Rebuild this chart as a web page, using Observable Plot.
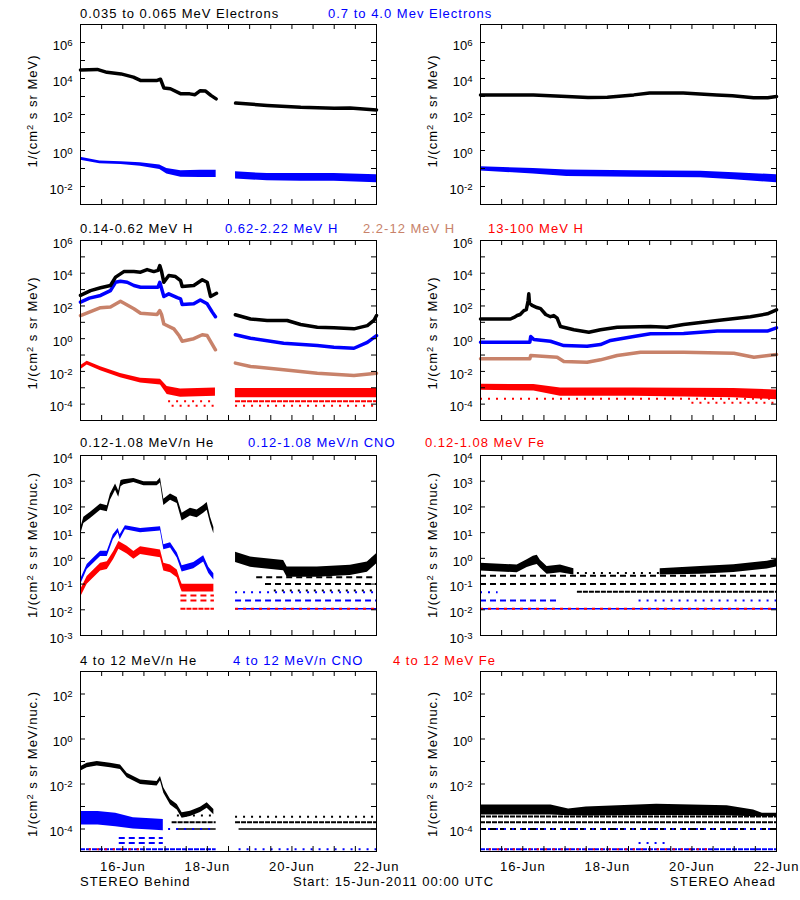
<!DOCTYPE html>
<html><head><meta charset="utf-8">
<script src="https://cdn.jsdelivr.net/npm/d3@7"></script>
<script src="https://cdn.jsdelivr.net/npm/@observablehq/plot@0.6"></script>
<style>
html,body{margin:0;padding:0;background:#fff;}
#chart{position:relative;width:800px;height:900px;overflow:hidden;font-family:"Liberation Sans",Arial,sans-serif;font-size:13px;color:#000;}
.t{position:absolute;white-space:nowrap;line-height:13px;letter-spacing:1px;}
.yl{position:absolute;white-space:nowrap;line-height:14px;letter-spacing:1px;transform:translate(-50%,-50%) rotate(-90deg);}
.yl sup{font-size:0.72em;vertical-align:0.45em;line-height:0;}
.p{position:absolute;}
g[aria-label="x-axis tick label"] text{letter-spacing:1px;}
</style></head>
<body><div id="chart"></div>
<script>
// ---------------- time axis (hours since 15-Jun-2011 00:00 UTC) ----------------
const X_DOMAIN = [0, 168];
const X_MINOR_HOURS = [12,24,36,48,60,72,84,96,108,120,132,144,156];
const X_LABEL_HOURS = [24,72,120,168];
const X_LABELS = ["16-Jun","18-Jun","20-Jun","22-Jun"];

// ---------------- y axes (decades) ----------------
const ELEC_TICK_EXPS = [-3,-2,-1,0,1,2,3,4,5,6,7];
const ELEC_LABEL_EXPS = [-2,0,2,4,6];
const H_TICK_EXPS = [-5,-4,-3,-2,-1,0,1,2,3,4,5,6];
const H_LABEL_EXPS = [-4,-2,0,2,4,6];
const LO_TICK_EXPS = [-3,-2,-1,0,1,2,3,4];
const LO_LABEL_EXPS = [-3,-2,-1,0,1,2,3,4];
const HI_TICK_EXPS = [-5,-4,-3,-2,-1,0,1,2,3];
const HI_LABEL_EXPS = [-4,-2,0,2];

// ---------------- texts ----------------
const ROW1_TITLES = ["0.035 to 0.065 MeV Electrons","0.7 to 4.0 Mev Electrons"];
const ROW2_TITLES = ["0.14-0.62 MeV H","0.62-2.22 MeV H","2.2-12 MeV H","13-100 MeV H"];
const ROW3_TITLES = ["0.12-1.08 MeV/n He","0.12-1.08 MeV/n CNO","0.12-1.08 MeV Fe"];
const ROW4_TITLES = ["4 to 12 MeV/n He","4 to 12 MeV/n CNO","4 to 12 MeV Fe"];
const FOOTER = ["STEREO Behind","Start: 15-Jun-2011 00:00 UTC","STEREO Ahead"];

// ---------------- row 1: electrons  [hour, value] / [hour, value, halfwidth(decades)] ----------------
const behindElecLow = [[0,3.0e4],[9.5,3.2e4],[15,2.2e4],[23,1.8e4],[30,1.2e4],[34,7.8e3],[43.5,7.8e3],[45.4,9.1e3],[47.3,3.0e3],[51,2.7e3],[57,1.4e3],[62,1.4e3],[65,1.26e3],[68,2.1e3],[71,2.0e3],[74,1.15e3],[77,7.4e2],[82,null],[88,4.3e2],[106,3.2e2],[125,2.5e2],[144,2.2e2],[153,2.3e2],[168,1.8e2]];
const behindElecHigh = [[0,0.35,0.08],[11,0.22,0.08],[23,0.2,0.08],[34,0.166,0.1],[45,0.117,0.12],[49,0.071,0.15],[57,0.05,0.18],[68,0.05,0.2],[77,0.05,0.2],[82,null,0],[88,0.041,0.2],[106,0.033,0.2],[125,0.032,0.22],[144,0.032,0.22],[168,0.027,0.22]];
const aheadElecLow = [[0,1230],[30,1230],[49,1000],[61,870],[72,910],[87,1230],[96,1580],[115,1580],[134,1230],[143,1100],[155,850],[163,850],[168,1000]];
const aheadElecHigh = [[0,0.095,0.12],[30,0.071,0.15],[49,0.055,0.18],[87,0.05,0.18],[125,0.047,0.18],[144,0.037,0.2],[168,0.027,0.22]];

// ---------------- row 2: protons ----------------
const behindH1 = [[0,440],[5.7,870],[11.4,1290],[17,1780],[19.9,5750],[24.6,12600],[30.3,12600],[34.1,11500],[37.8,16600],[41.6,12600],[44,15000],[45,29500],[46,13000],[47.3,2800],[50.1,7200],[53.9,6300],[56.8,3550],[57.7,1550],[64.3,1780],[69.1,4000],[71.9,2800],[73.8,380],[77.2,600],[82,null],[87.9,29],[96.5,16],[105.9,13],[117.3,13],[124.9,7.4],[134.4,5.0],[143.8,4.6],[155.2,4.0],[162.8,6.3],[166.5,13],[168,26]];
const behindH2 = [[0,170],[5,300],[11.4,440],[17,870],[19.9,2800],[22.7,3240],[26.5,2800],[30.3,1780],[34.1,1400],[44,1400],[45,2800],[47.3,380],[50.1,550],[54.9,320],[56.8,270],[57.7,123],[64.3,135],[68,234],[71.9,135],[74.8,42],[76.6,22],[82,null],[87.9,1.74],[96.5,1.07],[115.3,0.52],[134.4,0.38],[143.8,0.30],[155.2,0.26],[162.8,0.6],[168,1.55]];
const behindH3 = [[0,26],[11.4,78],[17,87],[22.7,195],[30.3,68],[34.1,36],[43.5,30],[45,52],[46,30],[47.3,7.9],[53,4],[56,1.5],[57.7,0.7],[64.3,1.0],[69.1,1.74],[71.9,1.55],[76.6,0.21],[82,null],[87.9,0.032],[96.5,0.02],[115.3,0.0126],[134.4,0.0078],[155.2,0.0056],[168,0.0078]];
const behindH4 = [[0,0.0166,0.12],[3.8,0.032,0.12],[11.4,0.0145,0.12],[22.7,0.0056,0.13],[34.1,0.00275,0.14],[45.4,0.0022,0.18],[49.2,6.8e-4,0.25],[56.8,4.7e-4,0.25],[76.6,5.4e-4,0.25],[82,null,0],[87.9,4.7e-4,0.28],[168,4.7e-4,0.28]];
const behindH4Floors = [[1.5e-4,50,77,"sparse"],[8e-5,52,77,"sparse"],[1.5e-4,88,168,"dense"],[8e-5,88,168,"sparse"]];
const aheadH1 = [[0,16],[17,16],[19,20],[20.8,26],[22.5,30],[24.6,52],[26,60],[27,200],[27.4,550],[27.8,150],[29.3,107],[32,80],[34.1,68],[37,30],[39.7,22],[41.6,26],[43.5,18],[45.4,5.5],[53,3.5],[61.5,2.5],[68.1,3.5],[77.6,5.0],[96.5,5.5],[105.9,5.0],[115.3,7.4],[134.4,13],[153.2,22],[162.8,33],[168,58]];
const aheadH2 = [[0,0.6],[28,0.6],[28.5,1.35],[30.3,0.9],[39.7,0.7],[47.3,0.38],[60.5,0.35],[68.1,0.44],[73.8,0.78],[87,1.35],[96.5,2.0],[115.3,2.1],[134.4,2.9],[153.2,2.9],[162.8,2.9],[168,4.6]];
const aheadH3 = [[0,0.059],[28,0.059],[28.5,0.093],[43.5,0.074],[47.3,0.04],[60.5,0.036],[68.1,0.051],[77.6,0.093],[90.8,0.148],[115.3,0.148],[143.8,0.129],[155.2,0.074],[168,0.107]];
const aheadH4 = [[0,1.07e-3,0.18],[30.3,1e-3,0.2],[45.4,5.4e-4,0.25],[87,5.4e-4,0.25],[143.8,4.7e-4,0.28],[168,3.7e-4,0.3]];
const aheadH4Floors = [[2.1e-4,0,168,"sparse"],[1.2e-4,120,168,"sparse"]];

// ---------------- row 3: 0.12-1.08 MeV/n ions ----------------
const behindHeLo = [[0,10.5,0.12],[1.9,30,0.12],[5.7,47,0.12],[11.4,98,0.12],[15.2,85,0.12],[17,240,0.12],[19.9,590,0.12],[21.7,316,0.12],[23,800,0.12],[24.6,910,0.1],[30.3,1070,0.08],[36,800,0.08],[43.5,800,0.08],[45.4,1070,0.1],[47.3,151,0.12],[51.1,240,0.12],[54.9,178,0.12],[57.7,40,0.15],[62.4,63,0.15],[66.2,54,0.15],[69.9,80,0.15],[71.9,105,0.15],[73.8,30,0.12],[75.7,12,0.12],[82,null,0],[88,1.1,0.2],[96.5,0.71,0.2],[115.3,0.52,0.2],[117.3,0.29,0.2],[134.4,0.29,0.2],[153.2,0.34,0.2],[162.8,0.46,0.2],[168,0.95,0.2]];
const behindCNOLo = [[0,0.117,0.1],[3.8,0.46,0.1],[7.6,0.83,0.1],[11.4,1.5,0.1],[15.2,1.5,0.1],[18.6,6.6,0.1],[21.4,12,0.08],[22.5,6.6,0.1],[25.5,15.5,0.08],[34.1,12,0.08],[45.4,14,0.08],[47.3,2.7,0.1],[51.1,3.2,0.1],[54.9,1.3,0.1],[57.7,0.39,0.12],[64.3,0.52,0.12],[69.9,0.95,0.12],[72.8,0.34,0.12],[75.7,0.19,0.12]];
const behindFeLo = [[0,0.042,0.15],[3.8,0.138,0.15],[11.4,0.46,0.15],[15.2,0.52,0.15],[18.9,1.3,0.15],[21.8,3.2,0.15],[26.5,2.1,0.15],[30.3,1.3,0.15],[34.1,2.0,0.15],[45.4,1.5,0.15],[47.3,0.46,0.15],[51.1,0.39,0.15],[54.9,0.25,0.15],[56.8,0.1,0.15],[57.7,0.07,0.15],[75.7,0.07,0.15]];
const behindLoFloors = [["He",0.186,100,168,"dashed"],["He",0.1,105,168,"dashed"],["He",0.056,110,168,"sparse"],["CNO",0.048,88,168,"sparse"],["CNO",0.023,88,168,"dashed"],["CNO",0.011,88,168,"solid"],["Fe",0.011,88,168,"mix"],["Fe",0.036,57,76,"dashed"],["Fe",0.023,57,76,"dashed"],["Fe",0.011,57,76,"dense"]];
const aheadHeLo = [[0,0.46,0.15],[20.8,0.39,0.15],[26.5,0.62,0.15],[30,0.8,0.18],[32.2,0.87,0.18],[34,0.6,0.15],[37.8,0.34,0.15],[45.4,0.39,0.15],[53,0.3,0.12],[56,null,0],[102,0.3,0.12],[124.9,0.34,0.15],[143.8,0.4,0.15],[162.8,0.55,0.15],[168,0.65,0.15]];
const aheadLoFloors = [["He",0.27,55,102,"sparse"],["He",0.21,0,168,"dashed"],["He",0.1,0,168,"dashed"],["He",0.05,55,168,"dense"],["CNO",0.048,0,10,"sparse"],["CNO",0.023,0,45,"dashed"],["CNO",0.023,90,168,"sparse"],["CNO",0.011,0,168,"solid"],["Fe",0.011,0,168,"mix"]];

// ---------------- row 4: 4-12 MeV/n ions ----------------
const behindHeHi = [[0,0.047,0.1],[3.8,0.066,0.1],[9.5,0.079,0.1],[17,0.066,0.1],[22.7,0.055,0.1],[26.5,0.024,0.1],[34.1,0.012,0.1],[43.5,0.0102,0.1],[45.4,0.017,0.1],[47.3,0.0051,0.12],[51.1,0.00155,0.12],[54.9,9.3e-4,0.12],[57.7,4e-4,0.12],[62.4,4.7e-4,0.12],[68.1,7.1e-4,0.12],[71.9,1.1e-3,0.12],[75.7,5.6e-4,0.12]];
const behindCNOHi = [[0,3e-4,0.3],[10,3e-4,0.3],[20,2.5e-4,0.3],[30,1.8e-4,0.25],[40,1.6e-4,0.25],[47,1.5e-4,0.25]];
const behindHiFloors = [["He",4e-4,55,77,"sparse"],["He",2e-4,52,77,"dense"],["He",1e-4,55,77,"solid"],["He",3.5e-4,88,168,"sparse"],["He",2e-4,88,168,"dense"],["He",1e-4,90,168,"solid"],["CNO",4e-5,22,47,"dashed"],["CNO",2.4e-5,22,47,"dashed"],["CNO",1.26e-5,0,77,"dense"],["CNO",1.26e-5,90,168,"sparse"],["CNO",1e-4,50,77,"sparse"],["Fe",1.26e-5,5,35,"sparse"]];
const aheadHeHi = [[0,7e-4,0.22],[40,7e-4,0.22],[50,5.5e-4,0.15],[60,6e-4,0.2],[100,7e-4,0.25],[140,6.5e-4,0.22],[155,5e-4,0.15],[160,4.2e-4,0.08],[168,4.2e-4,0.08]];
const aheadHiFloors = [["He",3.6e-4,0,168,"dense"],["He",2e-4,0,168,"dense"],["He",1e-4,0,168,"dashed"],["CNO",1e-4,0,168,"sparse"],["CNO",1.26e-5,0,168,"dense"],["CNO",2.4e-5,90,105,"sparse"],["Fe",1.26e-5,5,130,"sparse"]];

// ---------------- styling ----------------
const COLORS = {k:"#000000", b:"#0000ff", br:"#c8826a", r:"#ff0000"};
const SPECIES_COLOR = {He:"k", CNO:"b", Fe:"r", H4:"r"};
const DASH = {solid:null, dense:"5,1", dashed:"6,4", sparse:"2,6", mix:"3,5"};
const FONT = "'Liberation Sans', Arial, sans-serif";

const FRAME_W = 296, FRAME_H = 180, ML = 80, MR = 24, MT = 10;

function superscriptTicks(svg) {
  svg.querySelectorAll('g[aria-label="y-axis tick label"] text').forEach(t => {
    const m = /^10\^(-?\d+)$/.exec(t.textContent);
    if (!m) return;
    t.textContent = "10";
    const ts = document.createElementNS("http://www.w3.org/2000/svg", "tspan");
    ts.setAttribute("dy", "-0.42em");
    ts.setAttribute("font-size", "0.74em");
    ts.textContent = m[1];
    t.appendChild(ts);
  });
}

function panel(row, {lines = [], bands = [], floors = [], showX = false}) {
  const MB = showX ? 30 : 6;
  const marks = [];
  for (const [sp, v, h1, h2, dens] of floors) {
    marks.push(Plot.ruleY([{v, h1, h2}], {
      y: "v", x1: "h1", x2: "h2",
      stroke: COLORS[SPECIES_COLOR[sp]], strokeWidth: dens === "solid" ? 1.5 : 2,
      strokeDasharray: DASH[dens]
    }));
  }
  for (const [data, c] of bands) {
    marks.push(Plot.areaY(data, {
      x: d => d[0],
      y1: d => d[1] == null ? NaN : d[1] / Math.pow(10, d[2]),
      y2: d => d[1] == null ? NaN : d[1] * Math.pow(10, d[2]),
      fill: COLORS[c], curve: "linear"
    }));
  }
  for (const [data, c] of lines) {
    marks.push(Plot.line(data, {
      x: d => d[0], y: d => d[1] == null ? NaN : d[1],
      stroke: COLORS[c], strokeWidth: 3.5, strokeLinejoin: "round", curve: "linear"
    }));
  }
  const tickVals = row.tickExps.map(e => Math.pow(10, e));
  marks.push(
    Plot.tickY(tickVals, {y: d => d, stroke: "black", insetRight: FRAME_W - 5}),
    Plot.tickY(tickVals, {y: d => d, stroke: "black", insetLeft: FRAME_W - 5}),
    Plot.tickX(X_MINOR_HOURS, {x: d => d, stroke: "black", insetTop: FRAME_H - 5}),
    Plot.tickX(X_MINOR_HOURS, {x: d => d, stroke: "black", insetBottom: FRAME_H - 5}),
    Plot.frame({stroke: "black"}),
    Plot.axisY(row.labelExps.map(e => Math.pow(10, e)), {
      anchor: "left", tickSize: 0, tickPadding: 8, label: null, dy: 3,
      tickFormat: d => "10^" + Math.round(Math.log10(d)), fontSize: 13
    })
  );
  if (showX) {
    marks.push(Plot.axisX(X_LABEL_HOURS, {
      anchor: "bottom", tickSize: 0, tickPadding: 10, label: null,
      tickFormat: d => X_LABELS[X_LABEL_HOURS.indexOf(d)], fontSize: 13
    }));
  }
  const svg = Plot.plot({
    width: ML + FRAME_W + MR, height: MT + FRAME_H + MB,
    marginLeft: ML, marginRight: MR, marginTop: MT, marginBottom: MB,
    x: {domain: X_DOMAIN, axis: null},
    y: {type: "log", domain: row.domain, axis: null},
    style: {fontFamily: FONT, fontSize: "13px", background: "transparent", overflow: "visible", color: "black"},
    marks
  });
  superscriptTicks(svg);
  return svg;
}

const ROWS = [
  {top: 24,  domain: [1e-3, 1e7], tickExps: ELEC_TICK_EXPS, labelExps: ELEC_LABEL_EXPS, unit: "MeV", labelY: 111},
  {top: 240, domain: [1e-5, 1e6], tickExps: H_TICK_EXPS, labelExps: H_LABEL_EXPS, unit: "MeV", labelY: 333},
  {top: 455, domain: [1e-3, 1e4], tickExps: LO_TICK_EXPS, labelExps: LO_LABEL_EXPS, unit: "MeV/nuc.", labelY: 545},
  {top: 671, domain: [1e-5, 1e3], tickExps: HI_TICK_EXPS, labelExps: HI_LABEL_EXPS, unit: "MeV/nuc.", labelY: 764}
];

const PANELS = [
  [0, 0, {lines: [[behindElecLow, "k"]], bands: [[behindElecHigh, "b"]]}],
  [0, 1, {lines: [[aheadElecLow, "k"]], bands: [[aheadElecHigh, "b"]]}],
  [1, 0, {lines: [[behindH3, "br"], [behindH2, "b"], [behindH1, "k"]], bands: [[behindH4, "r"]], floors: behindH4Floors.map(f => ["H4", ...f])}],
  [1, 1, {lines: [[aheadH3, "br"], [aheadH2, "b"], [aheadH1, "k"]], bands: [[aheadH4, "r"]], floors: aheadH4Floors.map(f => ["H4", ...f])}],
  [2, 0, {bands: [[behindHeLo, "k"], [behindCNOLo, "b"], [behindFeLo, "r"]], floors: behindLoFloors}],
  [2, 1, {bands: [[aheadHeLo, "k"]], floors: aheadLoFloors}],
  [3, 0, {bands: [[behindCNOHi, "b"], [behindHeHi, "k"]], floors: behindHiFloors, showX: true}],
  [3, 1, {bands: [[aheadHeHi, "k"]], floors: aheadHiFloors, showX: true}]
];

const chart = document.getElementById("chart");
for (const [r, side, cfg] of PANELS) {
  const row = ROWS[r];
  const svg = panel(row, cfg);
  svg.classList.add("p");
  svg.style.left = (side * 400) + "px";
  svg.style.top = (row.top - MT) + "px";
  chart.appendChild(svg);
  const yl = document.createElement("div");
  yl.className = "yl";
  yl.innerHTML = "1/(cm<sup>2</sup> s sr " + row.unit + ")";
  yl.style.left = (side * 400 + 33) + "px";
  yl.style.top = row.labelY + "px";
  chart.appendChild(yl);
}

function addText(txt, color, x, y, anchorRight) {
  const d = document.createElement("div");
  d.className = "t";
  d.textContent = txt;
  d.style.color = color;
  d.style.top = y + "px";
  if (anchorRight) { d.style.right = (800 - x) + "px"; } else { d.style.left = x + "px"; }
  chart.appendChild(d);
}
const TITLE_ROWS = [
  [ROW1_TITLES, ["k","b"], [80, 328], 7],
  [ROW2_TITLES, ["k","b","br","r"], [80, 225, 363, 488], 222],
  [ROW3_TITLES, ["k","b","r"], [80, 248, 425], 436],
  [ROW4_TITLES, ["k","b","r"], [80, 233, 393], 654]
];
for (const [texts, cols, xs, y] of TITLE_ROWS) {
  texts.forEach((t, i) => addText(t, COLORS[cols[i]], xs[i], y));
}
addText(FOOTER[0], "#000", 80, 875);
addText(FOOTER[1], "#000", 293, 875);
addText(FOOTER[2], "#000", 776, 875, true);
</script>
</body></html>
